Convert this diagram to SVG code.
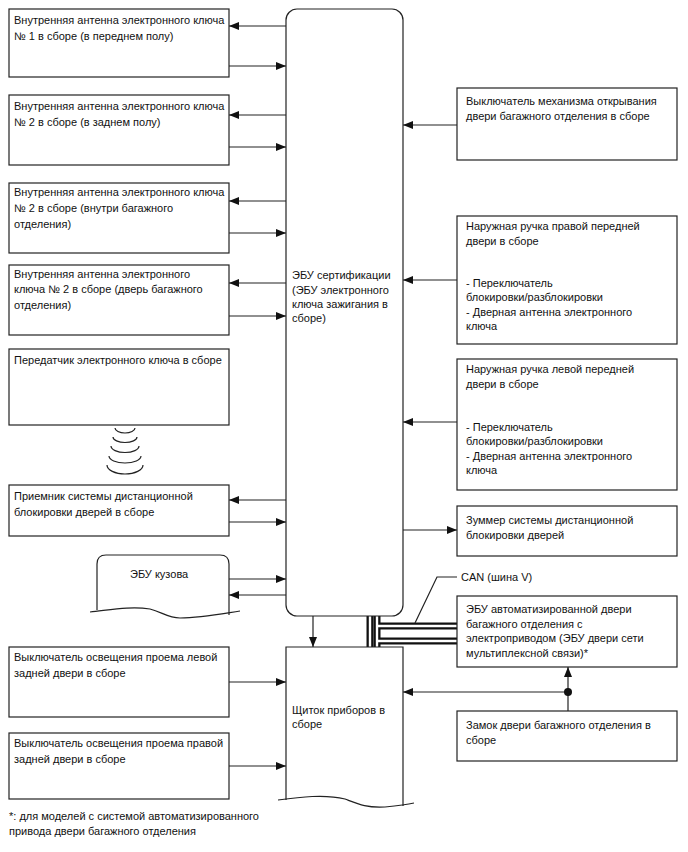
<svg xmlns="http://www.w3.org/2000/svg" width="688" height="852" viewBox="0 0 688 852">
<style>
.box{fill:#fff;stroke:#222;stroke-width:1.2}
.ln{fill:none;stroke:#222;stroke-width:1.2}
.t{font-family:"Liberation Sans",Arial,sans-serif;font-size:11px;fill:#111}
.cab{fill:none;stroke:#111;stroke-width:7}
.cabw{fill:none;stroke:#fff;stroke-width:2.4}
</style>
<defs>
<marker id="ah" viewBox="0 0 10 8" refX="10" refY="4" markerWidth="10" markerHeight="8" markerUnits="userSpaceOnUse" orient="auto">
<path d="M0,0 L10,4 L0,8 Z" fill="#111"/>
</marker>
</defs>
<rect width="688" height="852" fill="#fff"/>

<g id="connectors">
<line class="ln" x1="286" y1="26" x2="229" y2="26" marker-end="url(#ah)"/>
<line class="ln" x1="229" y1="66" x2="286" y2="66" marker-end="url(#ah)"/>
<line class="ln" x1="286" y1="115" x2="229" y2="115" marker-end="url(#ah)"/>
<line class="ln" x1="229" y1="147" x2="286" y2="147" marker-end="url(#ah)"/>
<line class="ln" x1="286" y1="201" x2="229" y2="201" marker-end="url(#ah)"/>
<line class="ln" x1="229" y1="233" x2="286" y2="233" marker-end="url(#ah)"/>
<line class="ln" x1="286" y1="283" x2="229" y2="283" marker-end="url(#ah)"/>
<line class="ln" x1="229" y1="316" x2="286" y2="316" marker-end="url(#ah)"/>
<line class="ln" x1="286" y1="500" x2="229" y2="500" marker-end="url(#ah)"/>
<line class="ln" x1="229" y1="522" x2="286" y2="522" marker-end="url(#ah)"/>
<line class="ln" x1="229" y1="579" x2="286" y2="579" marker-end="url(#ah)"/>
<line class="ln" x1="286" y1="595" x2="229" y2="595" marker-end="url(#ah)"/>
<line class="ln" x1="229" y1="682" x2="286" y2="682" marker-end="url(#ah)"/>
<line class="ln" x1="229" y1="766" x2="286" y2="766" marker-end="url(#ah)"/>
<line class="ln" x1="457" y1="125" x2="403" y2="125" marker-end="url(#ah)"/>
<line class="ln" x1="457" y1="280" x2="403" y2="280" marker-end="url(#ah)"/>
<line class="ln" x1="457" y1="422" x2="403" y2="422" marker-end="url(#ah)"/>
<line class="ln" x1="403" y1="530" x2="457" y2="530" marker-end="url(#ah)"/>
<line class="ln" x1="313" y1="616" x2="313" y2="647" marker-end="url(#ah)"/>
<line class="ln" x1="568" y1="692" x2="403" y2="692" marker-end="url(#ah)"/>
<line class="ln" x1="568" y1="711" x2="568" y2="667" marker-end="url(#ah)"/>
<circle cx="568" cy="692" r="4" fill="#111"/>
<path class="cab" d="M370,616 V647"/>
<path class="cab" d="M377,616 V647"/>
<path class="cab" d="M377,626 H457"/>
<path class="cab" d="M377,641 H457"/>
<path class="cabw" d="M370,616 V647"/>
<path class="cabw" d="M377,616 V647"/>
<path class="cabw" d="M377,626 H457"/>
<path class="cabw" d="M377,641 H457"/>
<polyline class="ln" points="457,577 437,577 415,623"/>
<text class="t" x="461" y="581">CAN (шина V)</text>
</g>

<g id="ecu_cert">
<rect class="box" x="286" y="9" width="117" height="607" rx="11"/>
<text class="t" x="292" y="279">ЭБУ сертификации</text>
<text class="t" x="292" y="294">(ЭБУ электронного</text>
<text class="t" x="292" y="308">ключа зажигания в</text>
<text class="t" x="292" y="322">сборе)</text>
</g>

<g id="cluster">
<path class="box" d="M286,800 V647 H403 V806"/>
<path class="ln" d="M278,800 C300,797 325,794 345,799 C358,804 366,808 385,807 C395,806 405,805 414,803"/>
<text class="t" x="292" y="714">Щиток приборов в</text>
<text class="t" x="292" y="728">сборе</text>
</g>

<g id="ant1">
<rect class="box" x="9" y="9" width="220" height="68"/>
<text class="t" x="14" y="24">Внутренняя антенна электронного ключа</text>
<text class="t" x="14" y="40">№ 1 в сборе (в переднем полу)</text>
</g>
<g id="ant2">
<rect class="box" x="9" y="95" width="220" height="70"/>
<text class="t" x="14" y="110">Внутренняя антенна электронного ключа</text>
<text class="t" x="14" y="126">№ 2 в сборе (в заднем полу)</text>
</g>
<g id="ant3">
<rect class="box" x="9" y="183" width="220" height="70"/>
<text class="t" x="14" y="196">Внутренняя антенна электронного ключа</text>
<text class="t" x="14" y="212">№ 2 в сборе (внутри багажного</text>
<text class="t" x="14" y="228">отделения)</text>
</g>
<g id="ant4">
<rect class="box" x="9" y="265" width="220" height="70"/>
<text class="t" x="14" y="278">Внутренняя антенна электронного</text>
<text class="t" x="14" y="293">ключа № 2 в сборе (дверь багажного</text>
<text class="t" x="14" y="309">отделения)</text>
</g>
<g id="transmitter">
<rect class="box" x="9" y="349" width="220" height="76"/>
<text class="t" x="14" y="364">Передатчик электронного ключа в сборе</text>
<path class="ln" d="M115,428 A10,5 0 0 0 135,428"/>
<path class="ln" d="M113,437 A12,5.5 0 0 0 137,437"/>
<path class="ln" d="M111,446 A14,6.5 0 0 0 139,446"/>
<path class="ln" d="M109,456 A16,7 0 0 0 141,456"/>
<path class="ln" d="M107,465 A18,9 0 0 0 143,465"/>
</g>
<g id="receiver">
<rect class="box" x="9" y="485" width="220" height="51"/>
<text class="t" x="14" y="500">Приемник системы дистанционной</text>
<text class="t" x="14" y="516">блокировки дверей в сборе</text>
</g>
<g id="body_ecu">
<path class="box" d="M97,610 V564 Q97,555 106,555 H220 Q229,555 229,564 V615"/>
<path class="ln" d="M90,612 C110,610 130,606 150,609 C162,612 168,618 180,618 C200,618 215,615 240,611"/>
<text class="t" x="130" y="578">ЭБУ кузова</text>
</g>
<g id="light_left">
<rect class="box" x="9" y="647" width="220" height="70"/>
<text class="t" x="14" y="661">Выключатель освещения проема левой</text>
<text class="t" x="14" y="677">задней двери в сборе</text>
</g>
<g id="light_right">
<rect class="box" x="9" y="733" width="220" height="66"/>
<text class="t" x="14" y="747">Выключатель освещения проема правой</text>
<text class="t" x="14" y="763">задней двери в сборе</text>
</g>

<g id="trunk_switch">
<rect class="box" x="457" y="88" width="220" height="72"/>
<text class="t" x="466" y="105">Выключатель механизма открывания</text>
<text class="t" x="466" y="120">двери багажного отделения в сборе</text>
</g>
<g id="handle_right">
<rect class="box" x="457" y="216" width="220" height="128"/>
<text class="t" x="466" y="230">Наружная ручка правой передней</text>
<text class="t" x="466" y="245">двери в сборе</text>
<text class="t" x="466" y="287">- Переключатель</text>
<text class="t" x="466" y="301">блокировки/разблокировки</text>
<text class="t" x="466" y="316">- Дверная антенна электронного</text>
<text class="t" x="466" y="330">ключа</text>
</g>
<g id="handle_left">
<rect class="box" x="457" y="359" width="220" height="131"/>
<text class="t" x="466" y="373">Наружная ручка левой передней</text>
<text class="t" x="466" y="388">двери в сборе</text>
<text class="t" x="466" y="431">- Переключатель</text>
<text class="t" x="466" y="445">блокировки/разблокировки</text>
<text class="t" x="466" y="460">- Дверная антенна электронного</text>
<text class="t" x="466" y="474">ключа</text>
</g>
<g id="buzzer">
<rect class="box" x="457" y="506" width="220" height="50"/>
<text class="t" x="466" y="524">Зуммер системы дистанционной</text>
<text class="t" x="466" y="539">блокировки дверей</text>
</g>
<g id="door_ecu">
<rect class="box" x="457" y="596" width="220" height="71"/>
<text class="t" x="466" y="613">ЭБУ автоматизированной двери</text>
<text class="t" x="466" y="628">багажного отделения с</text>
<text class="t" x="466" y="642">электроприводом (ЭБУ двери сети</text>
<text class="t" x="466" y="657">мультиплексной связи)*</text>
</g>
<g id="trunk_lock">
<rect class="box" x="457" y="711" width="220" height="50"/>
<text class="t" x="466" y="729">Замок двери багажного отделения в</text>
<text class="t" x="466" y="744">сборе</text>
</g>

<g id="footnote">
<text class="t" x="9" y="820">*: для моделей с системой автоматизированного</text>
<text class="t" x="9" y="835">привода двери багажного отделения</text>
</g>
</svg>
